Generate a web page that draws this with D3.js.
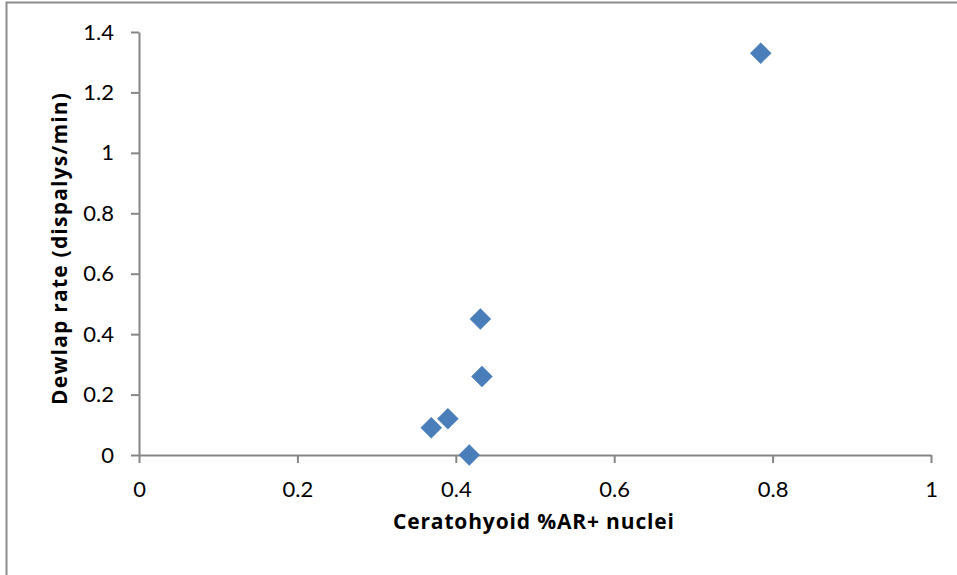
<!DOCTYPE html>
<html><head><meta charset="utf-8">
<script src="https://cdn.jsdelivr.net/npm/d3@7"></script>
<style>body{margin:0;background:#fff}svg{display:block}</style>
</head><body>
<svg id="c" width="957" height="575"></svg>
<script>
const xValues = [0.785, 0.431, 0.433, 0.390, 0.369, 0.417];
const yValues = [1.33, 0.45, 0.26, 0.12, 0.09, 0.0];
const xTicks = [0, 0.2, 0.4, 0.6, 0.8, 1];
const yTicks = [0, 0.2, 0.4, 0.6, 0.8, 1, 1.2, 1.4];
const xTitle = "Ceratohyoid %AR+ nuclei";
const yTitle = "Dewlap rate (dispalys/min)";

const svg = d3.select("#c");
const font = "Lato, 'Open Sans', sans-serif";
const tfont = "'Open Sans', Lato, sans-serif";
svg.append("rect").attr("x",6.5).attr("y",2.5).attr("width",1000).attr("height",1000)
  .attr("fill","none").attr("stroke","#8c8c8c").attr("stroke-width",2);

const x = d3.scaleLinear().domain([0,1]).range([139,931]);
const y = d3.scaleLinear().domain([0,1.4]).range([455,32]);

const gx = svg.append("g").attr("transform","translate(0,455)")
  .call(d3.axisBottom(x).tickValues(xTicks).tickFormat(d=>String(d)).tickSize(8).tickPadding(18).tickSizeOuter(0));
const gy = svg.append("g").attr("transform","translate(139,0)")
  .call(d3.axisLeft(y).tickValues(yTicks).tickFormat(d=>String(d)).tickSize(8).tickPadding(17).tickSizeOuter(0));
[gx,gy].forEach(g=>{
  g.select(".domain").attr("stroke","#868686").attr("stroke-width",2);
  g.selectAll(".tick line").attr("stroke","#868686").attr("stroke-width",2);
  g.selectAll(".tick text").attr("fill","#000").style("font-family",font).style("font-size","22px");
});

svg.append("text").attr("x",533.5).attr("y",529).attr("text-anchor","middle")
  .attr("textLength",281).attr("lengthAdjust","spacing")
  .style("font-family",tfont).style("font-size","21px").style("font-weight","bold").text(xTitle);
svg.append("text").attr("transform","translate(67,249) rotate(-90)").attr("text-anchor","middle")
  .attr("textLength",312).attr("lengthAdjust","spacing")
  .style("font-family",tfont).style("font-size","21px").style("font-weight","bold").text(yTitle);

const data = xValues.map((v,i)=>({x:v,y:yValues[i]}));
svg.append("g").selectAll("path").data(data).join("path")
  .attr("transform",d=>`translate(${x(d.x)},${y(d.y)})`)
  .attr("d","M0,-10.5L10.5,0L0,10.5L-10.5,0Z")
  .attr("fill","#4a7ebb").attr("stroke","#4a7ebb").attr("stroke-width",0.5);
</script>
</body></html>
